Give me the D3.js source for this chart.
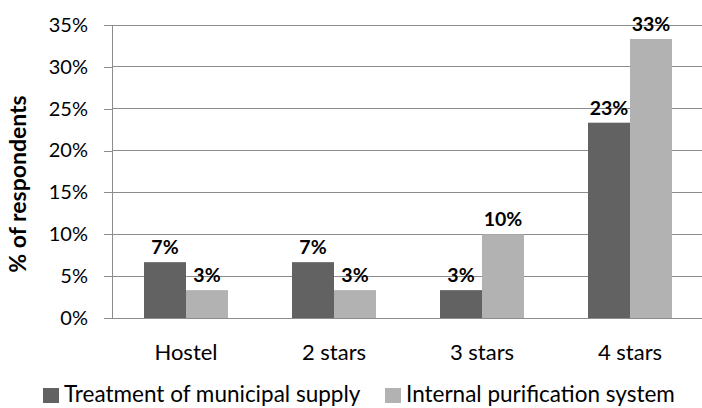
<!DOCTYPE html>
<html><head><meta charset="utf-8">
<script src="https://cdn.jsdelivr.net/npm/d3@7"></script>
<style>body{margin:0;background:#fff}svg{display:block}text{font-family:Lato,"Open Sans",sans-serif}</style>
</head><body><svg id="c" width="702" height="408"></svg>
<script>
const categories = ["Hostel", "2 stars", "3 stars", "4 stars"];
const seriesNames = ["Treatment of municipal supply", "Internal purification system"];
const municipal = [6.67, 6.67, 3.33, 23.33];
const internal = [3.33, 3.33, 10.0, 33.33];
const tickValues = [0, 5, 10, 15, 20, 25, 30, 35];
const colors = ["#626262", "#b2b2b2"];

const svg = d3.select("#c");
const m = {left:112, right:704, top:25, bottom:318};
const x = d3.scaleBand().domain(categories).range([m.left, m.right]).paddingInner(0).paddingOuter(0);
const y = d3.scaleLinear().domain([0,35]).range([m.bottom, m.top]);

// gridlines
svg.append("g").selectAll("line").data(tickValues.filter(d=>d>0)).join("line")
  .attr("x1", m.left).attr("x2", 702).attr("y1", d=>y(d)).attr("y2", d=>y(d))
  .attr("stroke", "#8c8c8c").attr("stroke-width", 1).attr("shape-rendering","crispEdges");

// y axis
const ya = svg.append("g").attr("transform", `translate(${m.left},0)`)
  .call(d3.axisLeft(y).tickValues(tickValues).tickSize(8).tickPadding(16).tickFormat(d=>d+"%"));
ya.select(".domain").attr("stroke","#8c8c8c").attr("d", `M-8,${y(0)}H0V${y(35)}`).attr("shape-rendering","crispEdges");
ya.selectAll(".tick line").attr("stroke","#8c8c8c").attr("shape-rendering","crispEdges");
ya.selectAll(".tick text").attr("font-size", 20).attr("fill","#000").attr("font-family","Lato");

// x baseline
svg.append("line").attr("x1", m.left).attr("x2", 702).attr("y1", y(0)).attr("y2", y(0))
  .attr("stroke","#8c8c8c").attr("shape-rendering","crispEdges");

// bars
const series = [municipal, internal];
const bw = 42;
series.forEach((vals, si) => {
  const g = svg.append("g");
  g.selectAll("rect").data(vals).join("rect")
    .attr("x", (d,i)=> x(categories[i]) + x.bandwidth()/2 - bw + si*bw)
    .attr("width", bw)
    .attr("y", d=>y(d)).attr("height", d=>y(0)-y(d))
    .attr("fill", colors[si]);
  g.selectAll("text").data(vals).join("text")
    .attr("x", (d,i)=> x(categories[i]) + x.bandwidth()/2 - bw + si*bw + bw/2)
    .attr("y", d=>y(d) - 8)
    .attr("text-anchor","middle").attr("font-size", 19.5).attr("font-weight","bold")
    .text(d=>Math.round(d)+"%");
});

// category labels
svg.append("g").selectAll("text").data(categories).join("text")
  .attr("x", d=>x(d)+x.bandwidth()/2).attr("y", 360)
  .attr("text-anchor","middle").attr("font-size", 22).text(d=>d);

// y title
svg.append("text").attr("transform", `translate(26,184) rotate(-90)`)
  .attr("text-anchor","middle").attr("font-size", 23).attr("font-weight","bold")
  .text("% of respondents");

// legend
const legX = [43, 385];
seriesNames.forEach((n, i) => {
  svg.append("rect").attr("x", legX[i]).attr("y", 388).attr("width", 16).attr("height", 15).attr("fill", colors[i]);
  svg.append("text").attr("x", legX[i]+21).attr("y", 402).attr("font-size", 22.5).text(n);
});
</script></body></html>
